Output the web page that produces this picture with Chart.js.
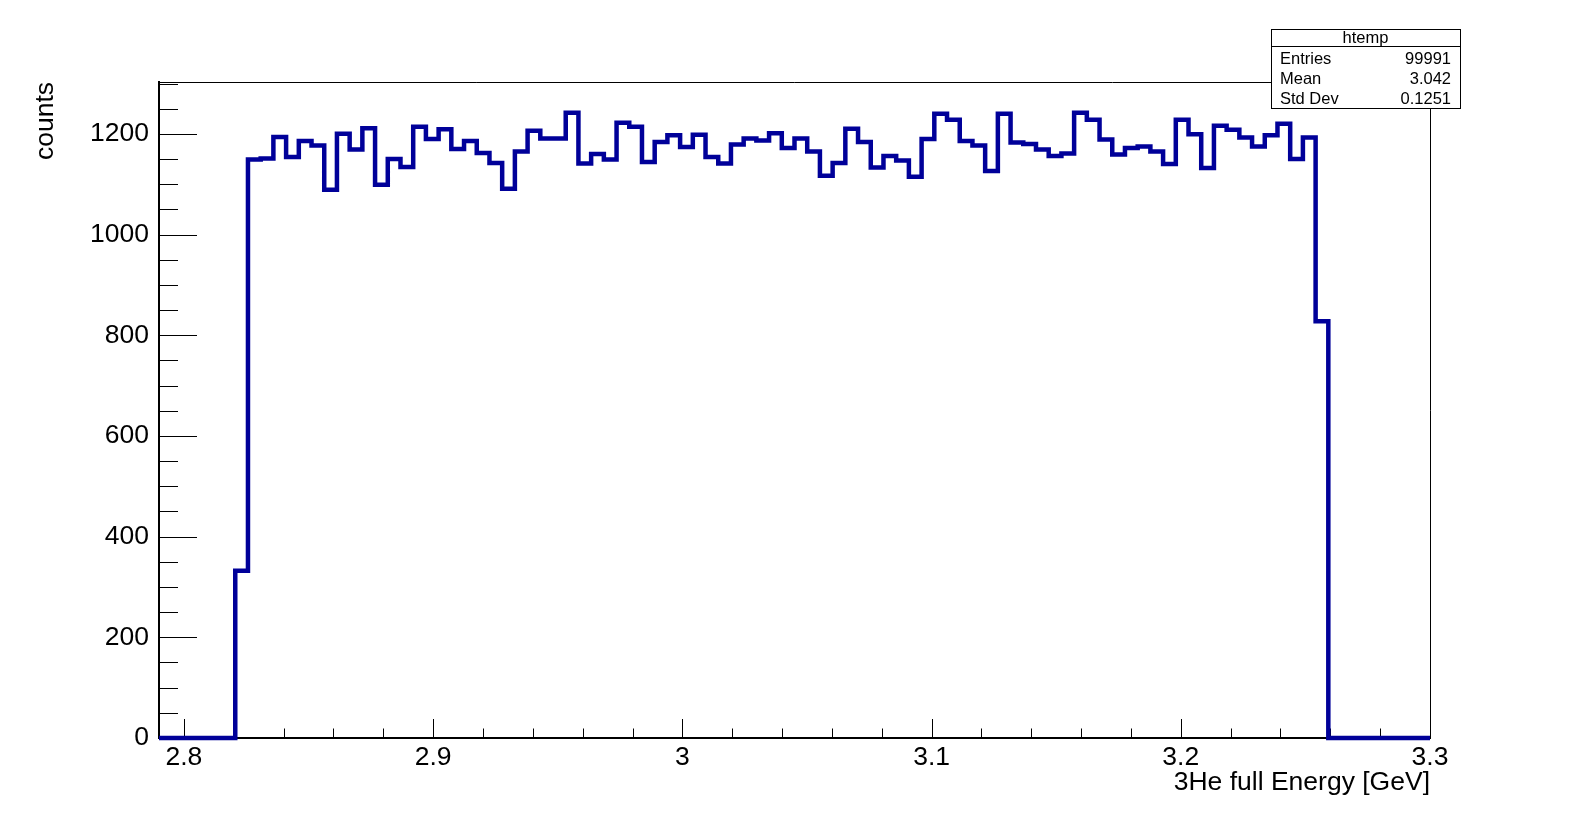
<!DOCTYPE html>
<html>
<head>
<meta charset="utf-8">
<title>3He full Energy</title>
<script src="https://cdn.jsdelivr.net/npm/chart.js@4.4.1/dist/chart.umd.min.js"></script>
<style>
  html, body { margin: 0; padding: 0; background: #fff; }
  #wrap { width: 1589px; height: 820px; }
</style>
</head>
<body>
<div id="wrap"><canvas id="hist" width="1589" height="820"></canvas></div>
<script>
// binning of the histogram: 100 bins between 2.79 and 3.3 GeV
const xMin = 2.79;
const xMax = 3.3;
const binWidth = 0.0051;

// bin contents
const counts = [
    0, 0, 0, 0, 0, 0, 332,
    1149, 1151, 1194, 1154, 1186, 1177, 1089, 1200, 1169, 1211,
    1099, 1150, 1134, 1214, 1190, 1209, 1170, 1186, 1162, 1142, 1091, 1165, 1206, 1191, 1191, 1242,
    1141, 1160, 1149, 1222, 1214, 1144, 1184, 1197, 1174, 1198, 1154, 1141, 1179, 1191, 1187, 1201, 1172,
    1191, 1165, 1117, 1142, 1210, 1184, 1133, 1156, 1147, 1115, 1190, 1240, 1228, 1186, 1177, 1126,
    1240, 1183, 1180, 1169, 1156, 1161, 1242, 1228, 1189, 1159, 1172, 1175, 1165, 1140, 1228, 1199, 1132,
    1216, 1208, 1193, 1175, 1197, 1220, 1150, 1193,
    828, 0, 0, 0, 0, 0, 0, 0, 0
];

// axis ranges / divisions
const yMax = 1303;
const xMajorStep = 0.1, xMinorStep = 0.02;
const yMajorStep = 200, yMinorStep = 50;

// stats box
const statsTitle = 'htemp';
const statsNames = ['Entries', 'Mean', 'Std Dev'];
const statsValues = ['99991', '3.042', '0.1251'];

const font = "'Liberation Sans', Arial, Helvetica, sans-serif";
const labelSize = 26.5;
Chart.defaults.font.family = font;
Chart.defaults.color = '#000';

// one point per bin low edge, plus the closing edge
const points = counts.map((c, i) => ({ x: xMin + i * binWidth, y: c }));
points.push({ x: xMax, y: 0 });

// ROOT style frame: inward ticks, box, stats pave
const rootFrame = {
    id: 'rootFrame',
    beforeDatasetsDraw(chart) {
        const { ctx, chartArea: a, scales: { x, y } } = chart;
        ctx.save();
        ctx.strokeStyle = '#000';
        ctx.lineWidth = 1;
        ctx.beginPath();
        // top and right sides of the frame
        ctx.moveTo(a.left, a.top + 0.5);
        ctx.lineTo(a.right + 0.5, a.top + 0.5);
        ctx.lineTo(a.right + 0.5, a.bottom);
        // y ticks
        for (let v = 0; v <= yMax; v += yMinorStep) {
            const py = Math.round(y.getPixelForValue(v)) + 0.5;
            const len = v % yMajorStep === 0 ? 38 : 19;
            ctx.moveTo(a.left, py);
            ctx.lineTo(a.left + len, py);
        }
        // x ticks
        const i0 = Math.ceil(xMin / xMinorStep - 1e-6);
        const i1 = Math.floor(xMax / xMinorStep + 1e-6);
        const per = Math.round(xMajorStep / xMinorStep);
        for (let i = i0; i <= i1; i++) {
            const px = Math.round(x.getPixelForValue(i * xMinorStep)) + 0.5;
            const len = i % per === 0 ? 19 : 9.5;
            ctx.moveTo(px, a.bottom);
            ctx.lineTo(px, a.bottom - len);
        }
        ctx.stroke();
        ctx.restore();
    },
    afterDraw(chart) {
        const { ctx } = chart;
        const bx = 1271, by = 29, bw = 189, bh = 79;
        ctx.save();
        ctx.fillStyle = '#fff';
        ctx.fillRect(bx, by, bw, bh);
        ctx.strokeStyle = '#000';
        ctx.lineWidth = 1;
        ctx.strokeRect(bx + 0.5, by + 0.5, bw, bh);
        ctx.beginPath();
        ctx.moveTo(bx, by + 17.5);
        ctx.lineTo(bx + bw, by + 17.5);
        ctx.stroke();
        ctx.fillStyle = '#000';
        ctx.font = '16.5px ' + font;
        ctx.textBaseline = 'middle';
        ctx.textAlign = 'center';
        ctx.fillText(statsTitle, bx + bw / 2, by + 9.5);
        statsNames.forEach((name, i) => {
            const ty = by + 30 + i * 20;
            ctx.textAlign = 'left';
            ctx.fillText(name, bx + 9, ty);
            ctx.textAlign = 'right';
            ctx.fillText(statsValues[i], bx + bw - 9, ty);
        });
        ctx.restore();
    }
};

const ctx = document.getElementById('hist').getContext('2d');
const histChart = new Chart(ctx, {
    type: 'line',
    data: {
        datasets: [{
            label: 'htemp',
            data: points,
            borderColor: '#000099',
            borderWidth: 4.5,
            pointRadius: 0,
            stepped: true,
            fill: false,
            clip: false
        }]
    },
    options: {
        responsive: false,
        animation: false,
        devicePixelRatio: 1,
        events: [],
        layout: { padding: { top: 82, right: 159, left: 0, bottom: 0 } },
        plugins: {
            legend: { display: false },
            tooltip: { enabled: false }
        },
        scales: {
            x: {
                type: 'linear',
                position: 'bottom',
                min: xMin,
                max: xMax,
                grid: { display: false, drawTicks: false },
                border: { color: '#000', width: 2 },
                ticks: {
                    stepSize: xMajorStep,
                    includeBounds: false,
                    autoSkip: false,
                    maxRotation: 0,
                    padding: 4,
                    font: { size: labelSize },
                    callback: v => String(Math.round(v * 10) / 10)
                },
                title: {
                    display: true,
                    text: '3He full Energy [GeV]',
                    align: 'end',
                    font: { size: labelSize },
                    padding: { top: 0, bottom: 21 }
                },
                afterFit: s => { s.height = 82; }
            },
            y: {
                type: 'linear',
                position: 'left',
                min: 0,
                max: yMax,
                grid: { display: false, drawTicks: false },
                border: { color: '#000', width: 2 },
                ticks: {
                    stepSize: yMajorStep,
                    includeBounds: false,
                    padding: 10,
                    font: { size: labelSize },
                    callback: v => String(v)
                },
                title: {
                    display: true,
                    text: 'counts',
                    align: 'end',
                    font: { size: labelSize },
                    padding: { top: 30, bottom: 0 }
                },
                afterFit: s => { s.width = 159; }
            }
        }
    },
    plugins: [rootFrame]
});
</script>
</body>
</html>
